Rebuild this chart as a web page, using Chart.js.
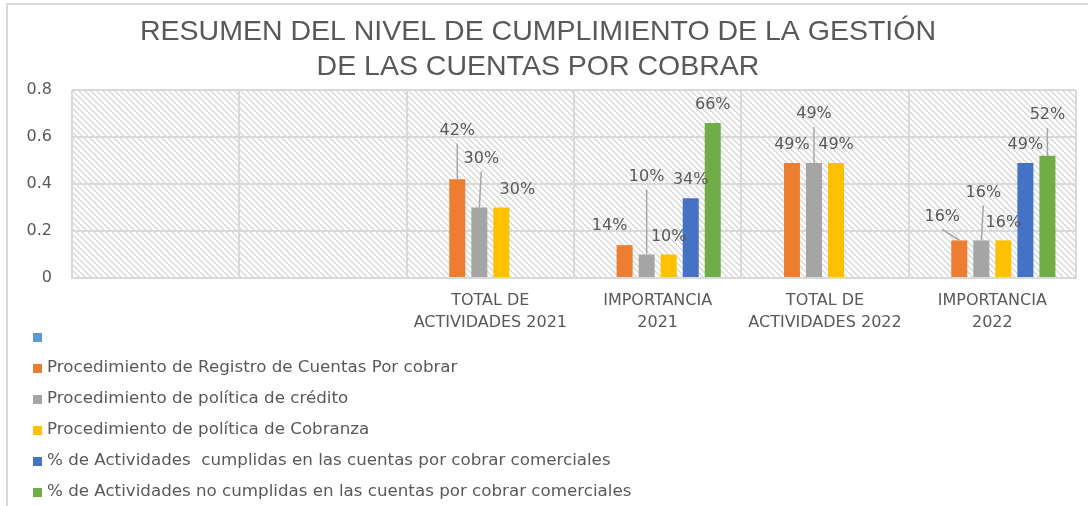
<!DOCTYPE html>
<html lang="es">
<head>
    <meta charset="UTF-8">
    <title>Resumen del nivel de cumplimiento</title>
    <script src="https://cdn.jsdelivr.net/npm/chart.js@4.4.0/dist/chart.umd.min.js"></script>
    <style>
        body { margin: 0; background: #fff; }
    </style>
</head>
<body>
    <canvas id="myChart" width="1088" height="506"></canvas>
</body>
<script>
    var categories = ['', '', ['TOTAL DE', 'ACTIVIDADES 2021'], ['IMPORTANCIA', '2021'],
        ['TOTAL DE', 'ACTIVIDADES 2022'], ['IMPORTANCIA', '2022']];
    var yTickLabels = ['0', '0.2', '0.4', '0.6', '0.8'];

    var serieVacia = [null, null, null, null, null, null];
    var registro = [null, null, 0.42, 0.14, 0.49, 0.16];
    var credito = [null, null, 0.30, 0.10, 0.49, 0.16];
    var cobranza = [null, null, 0.30, 0.10, 0.49, 0.16];
    var cumplidas = [null, null, null, 0.34, null, 0.49];
    var noCumplidas = [null, null, null, 0.66, null, 0.52];

    var textColor = '#595959';
    var gridColor = '#d9d9d9';
    var font = 'DejaVu Sans';

    // where Excel left each data label, relative to the top of its bar [dx, dy]
    var labelOffsets = {
        1: { 2: [0, -49], 3: [-15, -19], 5: [-17, -24] },
        2: { 2: [2, -49], 3: [0, -78], 4: [0, -49], 5: [2, -48] },
        3: { 2: [16, -18] },
        5: { 5: [0, -41] }
    };

    function hatch() {
        var c = document.createElement('canvas');
        c.width = 6; c.height = 6;
        var g = c.getContext('2d');
        g.strokeStyle = '#d6d6d6';
        g.lineWidth = 1.3;
        g.beginPath();
        g.moveTo(-1, -1); g.lineTo(7, 7);
        g.moveTo(-1, 5); g.lineTo(1, 7);
        g.moveTo(5, -1); g.lineTo(7, 1);
        g.stroke();
        return c;
    }

    var fondo = {
        id: 'fondo',
        beforeDraw: function (chart) {
            var ctx = chart.ctx, a = chart.chartArea;
            ctx.save();
            ctx.strokeStyle = gridColor;
            ctx.lineWidth = 2;
            ctx.beginPath();
            ctx.moveTo(7, 506); ctx.lineTo(7, 4); ctx.lineTo(1088, 4);
            ctx.stroke();
            ctx.fillStyle = ctx.createPattern(hatch(), 'repeat');
            ctx.fillRect(a.left, a.top, a.right - a.left, a.bottom - a.top);
            ctx.restore();
        }
    };

    var etiquetas = {
        id: 'etiquetas',
        afterDatasetsDraw: function (chart) {
            var ctx = chart.ctx;
            ctx.save();
            ctx.font = '16px "' + font + '"';
            ctx.fillStyle = textColor;
            ctx.textAlign = 'center';
            ctx.textBaseline = 'middle';
            chart.data.datasets.forEach(function (ds, i) {
                if (i === 0) return;
                chart.getDatasetMeta(i).data.forEach(function (bar, j) {
                    var v = ds.data[j];
                    if (v === null) return;
                    var off = (labelOffsets[i] && labelOffsets[i][j]) || [0, -18];
                    var lx = bar.x + off[0], ly = bar.y + off[1];
                    if (Math.hypot(off[0], off[1]) > 27) {
                        ctx.strokeStyle = '#a6a6a6';
                        ctx.lineWidth = 1.5;
                        ctx.beginPath();
                        ctx.moveTo(lx, ly + 13);
                        ctx.lineTo(bar.x, bar.y);
                        ctx.stroke();
                    }
                    ctx.fillText(Math.round(v * 100) + '%', lx, ly);
                });
            });
            ctx.restore();
        }
    };

    var leyenda = {
        id: 'leyenda',
        afterDraw: function (chart) {
            var ctx = chart.ctx;
            ctx.save();
            ctx.font = '16.7px "' + font + '"';
            ctx.textBaseline = 'middle';
            chart.data.datasets.forEach(function (ds, i) {
                var y = 337 + i * 31;
                ctx.fillStyle = ds.backgroundColor;
                ctx.fillRect(33, y - 4, 9, 9);
                ctx.fillStyle = textColor;
                ctx.fillText(ds.label, 47, y);
            });
            ctx.restore();
        }
    };

    var ctx = document.getElementById('myChart').getContext('2d');
    var chart = new Chart(ctx, {
        type: 'bar',
        data: {
            labels: categories,
            datasets: [
                { label: '', data: serieVacia, backgroundColor: '#5b9bd5' },
                { label: 'Procedimiento de Registro de Cuentas Por cobrar', data: registro, backgroundColor: '#ed7d31' },
                { label: 'Procedimiento de política de crédito', data: credito, backgroundColor: '#a5a5a5' },
                { label: 'Procedimiento de política de Cobranza', data: cobranza, backgroundColor: '#ffc000' },
                { label: '% de Actividades  cumplidas en las cuentas por cobrar comerciales', data: cumplidas, backgroundColor: '#4472c4' },
                { label: '% de Actividades no cumplidas en las cuentas por cobrar comerciales', data: noCumplidas, backgroundColor: '#70ad47' }
            ]
        },
        options: {
            responsive: false,
            animation: false,
            datasets: {
                bar: { categoryPercentage: 0.79, barPercentage: 0.727 }
            },
            layout: { padding: { left: 0, right: 12, top: 0, bottom: 0 } },
            plugins: {
                legend: { display: false },
                tooltip: { enabled: false },
                title: {
                    display: true,
                    text: ['RESUMEN DEL NIVEL DE CUMPLIMIENTO DE LA GESTIÓN', 'DE LAS CUENTAS POR COBRAR'],
                    color: textColor,
                    font: { family: 'Liberation Sans', size: 28.5, weight: 'normal', lineHeight: 1.23 },
                    padding: { top: 15, bottom: 5 }
                }
            },
            scales: {
                x: {
                    grid: { color: gridColor, lineWidth: 2, drawTicks: false },
                    border: { color: gridColor, width: 2 },
                    ticks: {
                        color: textColor, padding: 12, maxRotation: 0, autoSkip: false,
                        font: { family: font, size: 16, lineHeight: 1.35 }
                    },
                    afterFit: function (s) { s.height = 228; }
                },
                y: {
                    min: 0, max: 0.8,
                    grid: { color: gridColor, lineWidth: 2, drawTicks: false },
                    border: { display: false },
                    ticks: {
                        stepSize: 0.2, color: textColor, padding: 20,
                        font: { family: font, size: 16 },
                        callback: function (v, i) { return yTickLabels[i]; }
                    },
                    afterFit: function (s) { s.width = 72; }
                }
            }
        },
        plugins: [fondo, etiquetas, leyenda]
    });
</script>
</html>
